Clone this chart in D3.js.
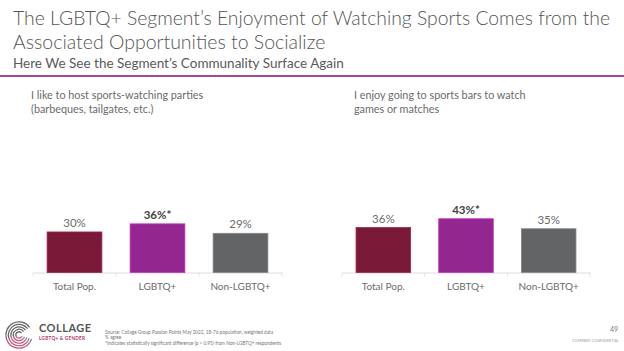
<!DOCTYPE html>
<html>
<head>
  <meta charset="UTF-8">
  <script src="https://d3js.org/d3.v7.min.js"></script>
  <style>
    body { margin: 0; background: #fff; }
    text { font-family: Lato, "Open Sans", sans-serif; }
  </style>
</head>
<body>
  <svg height="351" width="624" id="slide"></svg>

  <script>
    // data
    let categories = ["Total Pop.", "LGBTQ+", "Non-LGBTQ+"];
    let hostParties = [0.30, 0.36, 0.29];
    let sportsBars = [0.36, 0.43, 0.35];
    let significant = [false, true, false];
    let questions = [
      ["I like to host sports-watching parties", "(barbeques, tailgates, etc.)"],
      ["I enjoy going to sports bars to watch", "games or matches"]
    ];
    let colors = ["#7b1a38", "#93278f", "#636466"];

    let svg = d3.select("#slide");

    // header
    svg.append("text").attr("x", 13).attr("y", 25)
      .attr("font-size", 19.5).attr("font-weight", 300).attr("fill", "#555")
      .attr("textLength", 597).attr("lengthAdjust", "spacingAndGlyphs")
      .text("The LGBTQ+ Segment\u2019s Enjoyment of Watching Sports Comes from the");
    svg.append("text").attr("x", 13).attr("y", 49)
      .attr("font-size", 19.5).attr("font-weight", 300).attr("fill", "#555")
      .text("Associated Opportunities to Socialize");
    svg.append("text").attr("x", 13).attr("y", 68)
      .attr("font-size", 13.5).attr("fill", "#5a5a5a")
      .text("Here We See the Segment\u2019s Communality Surface Again");
    svg.append("line")
      .attr("x1", 0).attr("x2", 624).attr("y1", 76).attr("y2", 76)
      .attr("stroke", "#a3479f").attr("stroke-width", 2);

    // two small bar charts
    let panels = [
      { values: hostParties, q: questions[0], x0: 33, x1: 282, qx: 31, yMax: 0.74 },
      { values: sportsBars, q: questions[1], x0: 342, x1: 590, qx: 354, yMax: 0.80 }
    ];
    let baseY = 272.5;
    let plotH = 100;

    panels.forEach(function(p) {
      let g = svg.append("g");

      p.q.forEach(function(line, i) {
        g.append("text").attr("x", p.qx).attr("y", 99 + i * 13.5)
          .attr("font-size", 10.8).attr("fill", "#6b6b6b").text(line);
      });

      let xScale = d3.scaleBand()
        .domain(categories)
        .range([p.x0, p.x1])
        .paddingInner(0.34)
        .paddingOuter(0.17);

      let yScale = d3.scaleLinear()
        .domain([0, p.yMax])
        .range([baseY, baseY - plotH]);

      let xAxis = d3.axisBottom(xScale).tickSize(0).tickPadding(10);
      let ax = g.append("g")
        .attr("transform", `translate(0, ${baseY})`)
        .call(xAxis);
      ax.select(".domain").attr("stroke", "#dcdcdc").attr("stroke-width", 1);
      ax.selectAll("text")
        .attr("font-size", 10).attr("fill", "#6b6b6b")
        .attr("font-family", "Lato, sans-serif");

      // faint dividers between categories
      let step = xScale.step();
      let edges = [p.x0, p.x0 + step, p.x0 + 2 * step, p.x1];
      g.selectAll(".div").data(edges).enter().append("line")
        .attr("x1", d => d).attr("x2", d => d)
        .attr("y1", baseY).attr("y2", baseY + 4)
        .attr("stroke", "#e2e2e2").attr("stroke-width", 1);

      g.selectAll(".bar").data(p.values).enter().append("rect")
        .attr("x", (d, i) => xScale(categories[i]))
        .attr("y", d => yScale(d))
        .attr("width", xScale.bandwidth())
        .attr("height", d => baseY - yScale(d))
        .attr("fill", (d, i) => colors[i])
        .attr("stroke", (d, i) => d3.color(colors[i]).brighter(0.8))
        .attr("stroke-width", 0.8);

      g.selectAll(".val").data(p.values).enter().append("text")
        .attr("x", (d, i) => xScale(categories[i]) + xScale.bandwidth() / 2)
        .attr("y", d => yScale(d) - 5)
        .attr("text-anchor", "middle")
        .attr("font-size", 11.5)
        .attr("font-weight", (d, i) => significant[i] ? "bold" : "normal")
        .attr("fill", (d, i) => significant[i] ? "#444" : "#6b6b6b")
        .text((d, i) => Math.round(d * 100) + "%" + (significant[i] ? "*" : ""));
    });

    // logo: maze-like C
    let logo = svg.append("g").attr("transform", "translate(19, 335)");
    let radii = [2.5, 5, 7.5, 10, 12.5];
    radii.forEach(function(r, i) {
      logo.append("path")
        .attr("d", d3.arc()({ innerRadius: r, outerRadius: r + 1.3,
          startAngle: 0.7 * Math.PI, endAngle: 1.4 * Math.PI }))
        .attr("fill", "#c4607f");
      logo.append("path")
        .attr("d", d3.arc()({ innerRadius: r, outerRadius: r + 1.3,
          startAngle: 1.4 * Math.PI, endAngle: 2.3 * Math.PI }))
        .attr("fill", "#666");
      logo.append("path")
        .attr("d", d3.arc()({ innerRadius: r, outerRadius: r + 1.3,
          startAngle: 0.6 * Math.PI, endAngle: 0.7 * Math.PI }))
        .attr("fill", "#888");
    });

    svg.append("text").attr("x", 39).attr("y", 332)
      .attr("font-size", 11).attr("font-weight", "bold")
      .attr("letter-spacing", 0.5).attr("fill", "#555")
      .text("COLLAGE");
    svg.append("text").attr("x", 39).attr("y", 340)
      .attr("font-size", 4.6).attr("font-weight", "bold")
      .attr("letter-spacing", 0.3).attr("fill", "#b0306a")
      .text("LGBTQ+ & GENDER");

    let notes = [
      "Source: Collage Group Passion Points May 2022, 18-76 population, weighted data",
      "% agree",
      "*Indicates statistically significant difference (p > 0.95) from Non-LGBTQ+ respondents"
    ];
    notes.forEach(function(n, i) {
      svg.append("text").attr("x", 105).attr("y", 333.5 + i * 5.8)
        .attr("font-size", 4.7).attr("fill", "#777").text(n);
    });

    svg.append("text").attr("x", 618).attr("y", 332)
      .attr("text-anchor", "end").attr("font-size", 7).attr("fill", "#777")
      .text("49");
    svg.append("text").attr("x", 619).attr("y", 342)
      .attr("text-anchor", "end").attr("font-size", 3.6).attr("fill", "#999")
      .attr("letter-spacing", 0.1)
      .text("COMPANY CONFIDENTIAL");
  </script>
</body>
</html>
